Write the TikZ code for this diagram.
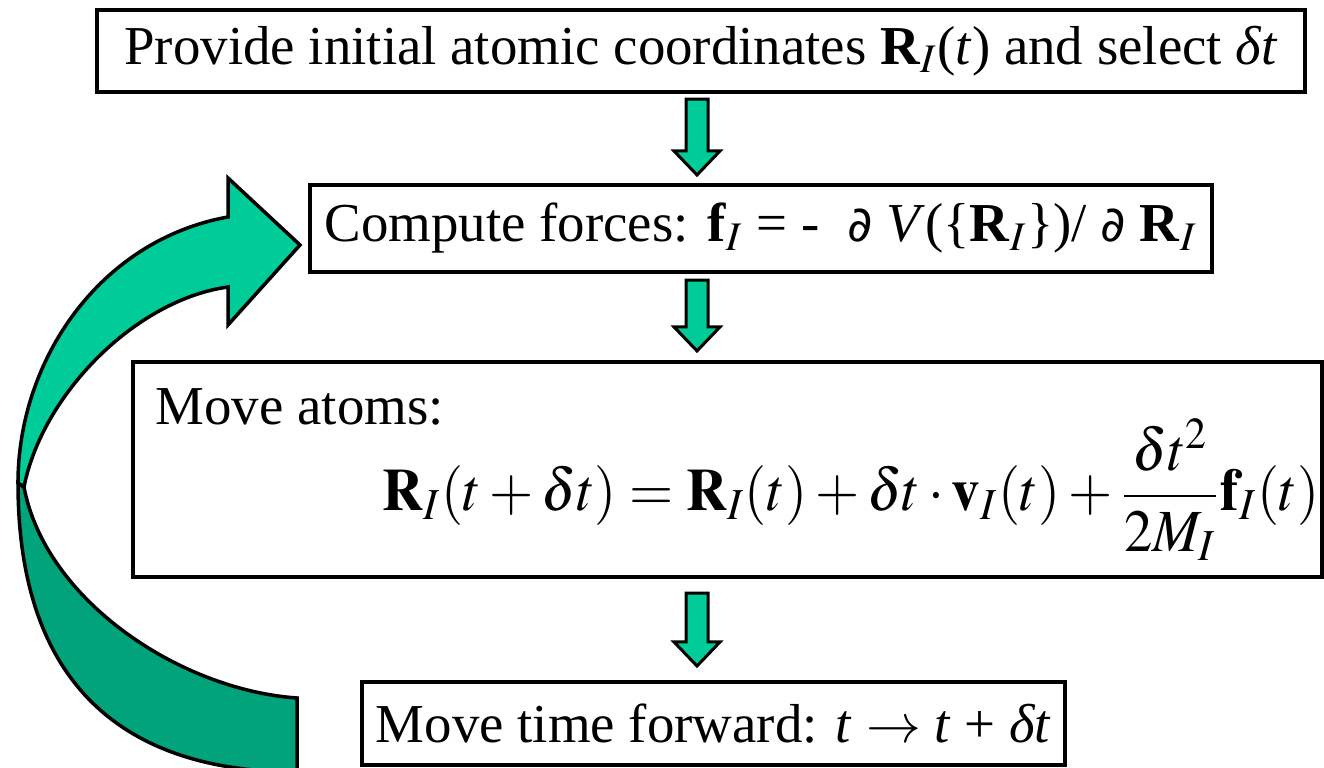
\documentclass[tikz,border=0pt]{standalone}
\usepackage{mathptmx}
\usepackage{fontspec}
\setmainfont{Liberation Serif}
\newfontfamily\symbolfont{DejaVu Sans}
\usetikzlibrary{positioning, calc}
\definecolor{FlowGreen}{HTML}{00CC99}
\definecolor{FlowGreenDark}{HTML}{00A37A}

% block arrow pointing down: #1 top point, #2 tip
\newcommand\flowdown[2]{%
  \path[flowarrow] let \p1=(#1), \p2=(#2) in
    (\x1-0.11cm,\y1) -- (\x1+0.11cm,\y1) -- (\x1+0.11cm,\y2+0.24cm) -- (\x1+0.23cm,\y2+0.24cm)
    -- (\x1,\y2) -- (\x1-0.23cm,\y2+0.24cm) -- (\x1-0.11cm,\y2+0.24cm) -- cycle;}
\newcommand\pd{{\symbolfont\fontsize{14}{18}\selectfont ∂}}

\begin{document}
\begin{tikzpicture}[
    x=0.01cm, y=-0.01cm,
    stepbox/.style={draw=black, line width=0.04cm, fill=white, inner sep=0pt, font=\fontsize{15.6}{18}\selectfont},
    steptext/.style={inner sep=0pt, font=\fontsize{15.6}{18}\selectfont},
    flowarrow/.style={draw=black, line width=0.03cm, fill=FlowGreen, line join=miter},
    ribbon/.style={draw=black, line width=0.035cm, line join=miter}
]
\useasboundingbox (0,0) rectangle (1324,768);

% Loop back ribbon (drawn first, under the boxes)
\path[ribbon, fill=FlowGreenDark] (18,483) .. controls (18,690) and (130,772) .. (297,772)
  -- (297,698) .. controls (180,690) and (45,600) .. (24,487) -- cycle;
\path[ribbon, fill=FlowGreen] (18,483) .. controls (18,360) and (100,240) .. (228,217)
  -- (228,178) -- (300,245) -- (228,325) -- (228,287)
  .. controls (135,300) and (42,395) .. (24,487) -- cycle;

% Steps
\node[stepbox, minimum width=12.08cm, minimum height=0.82cm] (init) at (701,51)
  {Provide initial atomic coordinates \textbf{R}$_I$(\textit{t}) and select \textit{δt}};
\node[stepbox, minimum width=9.02cm, minimum height=0.87cm] (force) at (761,228.5)
  {Compute forces: \textbf{f}$_I$ = -\ \ \pd\ \textit{V}(\{\textbf{R}$_I$\})/ \pd\ \textbf{R}$_I$};
\node[stepbox, minimum width=11.89cm, minimum height=2.15cm] (move) at (727.5,469.5) {};
\node[steptext, anchor=base west] (movelabel) at (155,425) {Move atoms:};
\node[steptext, font=\fontsize{17}{18}\selectfont, xscale=0.95, transform shape] (moveeq) at (851,490)
  {$\displaystyle \mathbf{R}_I(t+\delta t)=\mathbf{R}_I(t)+\delta t\cdot\mathbf{v}_I(t)+\frac{\delta t^2}{2M_I}\mathbf{f}_I(t)$};
\node[stepbox, minimum width=7.03cm, minimum height=0.83cm] (advance) at (713.5,723.5)
  {Move time forward: \textit{t} $\rightarrow$ \textit{t} + \textit{δt}};

% Down arrows between steps
\coordinate (ax) at (697,0);
\flowdown{$(init.south -| ax)+(0,5)$}{$(force.north -| ax)+(0,-8)$}
\flowdown{$(force.south -| ax)+(0,6)$}{$(move.north -| ax)+(0,-9)$}
\flowdown{$(move.south -| ax)+(0,14)$}{$(advance.north -| ax)+(0,-14)$}

\end{tikzpicture}
\end{document}
